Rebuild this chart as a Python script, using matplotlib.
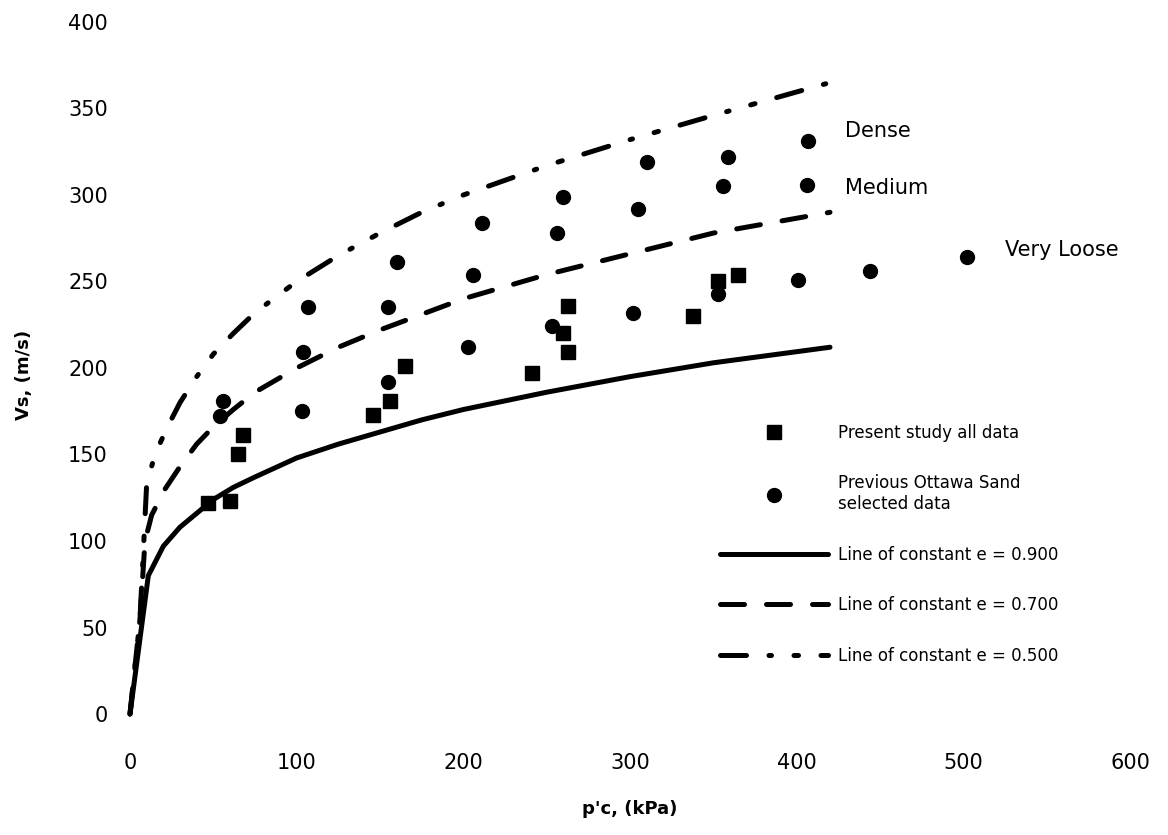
import matplotlib
matplotlib.use("Agg")
from matplotlib import pyplot as plt

# present study (squares)
sq_p = [47, 60, 65, 68, 146, 156, 165, 241, 260, 263, 263, 338, 353, 365]
sq_vs = [122, 123, 150, 161, 173, 181, 201, 197, 220, 209, 236, 230, 250, 254]

# previous Ottawa sand (circles)
ci_p = [56, 54, 103, 104, 107, 155, 155, 160, 203, 206, 211, 253, 256, 260,
        302, 305, 310, 353, 356, 359, 401, 406, 407, 444, 502]
ci_vs = [181, 172, 175, 209, 235, 192, 235, 261, 212, 254, 284, 224, 278, 299,
         232, 292, 319, 243, 305, 322, 251, 306, 331, 256, 264]

# lines of constant void ratio
e90_p = [0, 11, 20, 30, 40, 50, 62, 75, 100, 125, 150, 175, 200, 250, 300, 350, 420]
e90_vs = [0, 80, 97, 108, 116, 124, 131, 137, 148, 156, 163, 170, 176, 186, 195, 203, 212]

e70_p = [0, 6, 9, 13, 21, 30, 40, 50, 62, 75, 100, 125, 150, 175, 200, 250, 300, 350, 420]
e70_vs = [0, 55, 100, 115, 130, 143, 156, 166, 176, 186, 200, 212, 222, 231, 240, 254, 266, 278, 290]

e50_p = [0, 6, 10, 15, 22, 30, 40, 50, 62, 75, 100, 125, 150, 175, 200, 250, 300, 350, 420]
e50_vs = [0, 55, 133, 150, 165, 180, 195, 208, 220, 232, 250, 265, 278, 290, 300, 317, 332, 346, 365]

labels = [("Dense", 429, 337), ("Medium", 429, 304), ("Very Loose", 525, 268)]

xticks = [0, 100, 200, 300, 400, 500, 600]
yticks = [0, 50, 100, 150, 200, 250, 300, 350, 400]

fig = plt.figure(figsize=(11.68, 8.35), dpi=100)
ax = fig.add_axes([130 / 1168, 1 - 714 / 835, 1000 / 1168, 692 / 835])

l90, = ax.plot(e90_p, e90_vs, color='black', lw=3.6, solid_capstyle='round',
               label='Line of constant e = 0.900', clip_on=False)
l70, = ax.plot(e70_p, e70_vs, color='black', lw=3.6, dashes=(4.8, 4.4),
               dash_capstyle='round', label='Line of constant e = 0.700', clip_on=False)
l50, = ax.plot(e50_p, e50_vs, color='black', lw=3.6, dashes=(5.2, 4.5, 0.5, 4.5, 0.9, 4.5),
               dash_capstyle='round', label='Line of constant e = 0.500', clip_on=False)
p1, = ax.plot(sq_p, sq_vs, 's', color='black', ms=9.5, ls='none',
              label='Present study all data')
p2, = ax.plot(ci_p, ci_vs, 'o', color='black', ms=10, ls='none',
              label='Previous Ottawa Sand\nselected data')

for txt, x, y in labels:
    ax.text(x, y, txt, fontsize=15, va='center', ha='left')

ax.set_xlim(0, 600)
ax.set_ylim(0, 400)
ax.set_xticks(xticks)
ax.set_yticks(yticks)
for s in ax.spines.values():
    s.set_visible(False)
ax.tick_params(axis='both', length=0, labelsize=15)
ax.tick_params(axis='x', pad=28)
ax.tick_params(axis='y', pad=16)

ax.set_xlabel("p'c, (kPa)", fontsize=13, fontweight='bold')
ax.xaxis.set_label_coords(0.5, -0.124)
ax.set_ylabel("Vs, (m/s)", fontsize=13, fontweight='bold')
ax.yaxis.set_label_coords(-0.097, 0.49)

ax.legend(handles=[p1, p2, l90, l70, l50], loc='upper left',
          bbox_to_anchor=(720 / 1168, 1 - 424 / 835), bbox_transform=fig.transFigure,
          frameon=False, fontsize=12, handlelength=6.5, handletextpad=0.6,
          labelspacing=1.95, borderpad=0, borderaxespad=0, numpoints=1)

plt.savefig('out.png', dpi=100)
